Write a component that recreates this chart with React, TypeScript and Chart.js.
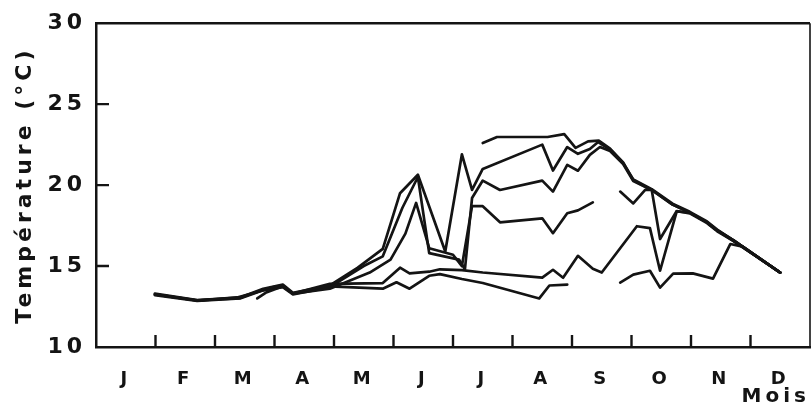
import React, { useEffect, useRef } from 'react';
import { Chart, registerables } from 'chart.js';

Chart.register(...registerables);

// Month labels (x axis, centred in each month)
const months = ['J', 'F', 'M', 'A', 'M', 'J', 'J', 'A', 'S', 'O', 'N', 'D'];
const monthBoundaries = [1, 2, 3, 4, 5, 6, 7, 8, 9, 10, 11];
const yTickValues = [15, 20, 25];

// Series: [month position, temperature °C]; null = gap
const serieA: [number, number | null][] = [
  [6.50, 22.6], [6.74, 22.97], [7.59, 22.97], [7.87, 23.15], [8.06, 22.3], [8.27, 22.7],
  [8.45, 22.75], [8.64, 22.25], [8.86, 21.4], [9.03, 20.3], [9.34, 19.7], [9.69, 18.8],
  [9.98, 18.3], [10.27, 17.7], [10.44, 17.2], [10.71, 16.6], [11.5, 14.6],
];

const serieB: [number, number | null][] = [
  [0.99, 13.3], [1.70, 12.9], [2.42, 13.05], [2.81, 13.6], [3.14, 13.85], [3.31, 13.35],
  [3.93, 13.8], [4.4, 14.9], [4.82, 16.06], [5.11, 19.5], [5.41, 20.64], [5.87, 15.9],
  [6.15, 21.9], [6.32, 19.7], [6.50, 21.0], [7.50, 22.5], [7.68, 20.9], [7.92, 22.35],
  [8.10, 21.93], [8.30, 22.23], [8.44, 22.66], [8.64, 22.2], [8.86, 21.35], [9.03, 20.35],
  [9.34, 19.75], [9.69, 18.85], [9.98, 18.35], [10.27, 17.75], [10.44, 17.25], [10.71, 16.6],
  [11.5, 14.6],
];

const serieC: [number, number | null][] = [
  [0.99, 13.2], [1.70, 12.85], [2.42, 13.0], [2.81, 13.5], [3.14, 13.7], [3.31, 13.25],
  [3.93, 13.7], [4.5, 15.0], [4.82, 15.6], [5.15, 18.6], [5.41, 20.5], [5.6, 15.8],
  [6.1, 15.4], [6.2, 14.8], [6.32, 19.2], [6.50, 20.28], [6.79, 19.7], [7.50, 20.28],
  [7.68, 19.6], [7.92, 21.25], [8.10, 20.89], [8.30, 21.87], [8.47, 22.35], [8.64, 22.1],
  [8.86, 21.3], [9.03, 20.25], [9.34, 19.7], [9.69, 18.8], [9.98, 18.3], [10.27, 17.7],
  [10.44, 17.2], [10.71, 16.55], [11.5, 14.6],
];

const serieD: [number, number | null][] = [
  [2.71, 13.0], [2.85, 13.35], [3.14, 13.75], [3.31, 13.3], [3.93, 13.6], [4.6, 14.6],
  [4.95, 15.4], [5.2, 17.0], [5.38, 18.9], [5.6, 16.1], [6.0, 15.7], [6.15, 15.0],
  [6.32, 18.7], [6.50, 18.7], [6.79, 17.7], [7.50, 17.95], [7.68, 17.03], [7.92, 18.26],
  [8.10, 18.44], [8.35, 18.93], [8.6, null], [8.81, 19.6], [9.03, 18.87], [9.23, 19.7],
  [9.34, 19.7], [9.48, 16.67], [9.76, 18.4], [9.98, 18.25], [10.27, 17.65], [10.44, 17.15],
  [10.71, 16.55], [11.5, 14.6],
];

const serieE: [number, number | null][] = [
  [0.99, 13.25], [1.70, 12.88], [2.42, 13.02], [2.81, 13.55], [3.14, 13.75], [3.31, 13.3],
  [3.93, 13.9], [4.82, 13.95], [5.11, 14.9], [5.27, 14.55], [5.6, 14.65], [5.78, 14.8],
  [6.15, 14.75], [6.5, 14.6], [7.5, 14.28], [7.68, 14.77], [7.85, 14.28], [8.10, 15.63],
  [8.35, 14.83], [8.50, 14.6], [9.09, 17.46], [9.31, 17.34], [9.48, 14.71], [9.76, 18.38],
  [9.98, 18.3], [10.27, 17.7], [10.44, 17.2], [10.71, 16.6], [11.5, 14.6],
];

const serieF: [number, number | null][] = [
  [0.99, 13.25], [1.70, 12.87], [2.37, 13.06], [2.71, 13.4], [2.98, 13.7], [3.14, 13.8],
  [3.31, 13.3], [3.93, 13.75], [4.82, 13.6], [5.05, 14.0], [5.27, 13.6], [5.6, 14.4],
  [5.78, 14.5], [6.15, 14.2], [6.50, 13.95], [7.45, 13.0], [7.62, 13.8], [7.92, 13.85],
  [8.3, null], [8.81, 13.98], [9.03, 14.47], [9.31, 14.71], [9.48, 13.67], [9.70, 14.53],
  [10.03, 14.55], [10.37, 14.22], [10.66, 16.36], [10.87, 16.2], [11.5, 14.6],
];

const allSeries = [serieA, serieB, serieC, serieD, serieE, serieF];

const INK = '#141414';
const FONT = '"DejaVu Sans", sans-serif';

const framePlugin = {
  id: 'frameTicks',
  beforeDraw(chart: any) {
    chart.ctx.letterSpacing = '4px';
  },
  afterDraw(chart: any) {
    const { ctx, chartArea, scales } = chart;
    const { left, right, top, bottom } = chartArea;
    ctx.save();
    ctx.letterSpacing = '0px';
    ctx.strokeStyle = INK;
    ctx.lineCap = 'butt';
    ctx.lineWidth = 2.5;
    ctx.beginPath();
    ctx.moveTo(left, top);
    ctx.lineTo(right, top);
    ctx.stroke();
    ctx.lineWidth = 1.6;
    ctx.beginPath();
    ctx.moveTo(right, top);
    ctx.lineTo(right, bottom);
    ctx.stroke();
    ctx.lineWidth = 2.4;
    ctx.beginPath();
    for (const m of monthBoundaries) {
      const px = scales.x.getPixelForValue(m);
      ctx.moveTo(px, bottom);
      ctx.lineTo(px, bottom - 12);
    }
    for (const v of yTickValues) {
      const py = scales.y.getPixelForValue(v);
      ctx.moveTo(left, py);
      ctx.lineTo(left + 13, py);
    }
    ctx.stroke();
    ctx.restore();
  },
};

export default function App() {
  const canvasRef = useRef<HTMLCanvasElement | null>(null);

  useEffect(() => {
    if (!canvasRef.current) return;
    const datasets = allSeries.map((s, i) => ({
      label: 'S' + (i + 1),
      data: s.map(([x, y]) => ({ x, y })),
      borderColor: INK,
      backgroundColor: INK,
      borderWidth: 2.7,
      pointRadius: 0,
      tension: 0,
      spanGaps: false,
      borderJoinStyle: 'round' as const,
      borderCapStyle: 'round' as const,
    }));
    const chart = new Chart(canvasRef.current, {
      type: 'line',
      data: { datasets },
      options: {
        animation: false,
        responsive: true,
        maintainAspectRatio: false,
        layout: { padding: { top: 20, right: 2, left: 0, bottom: 0 } },
        plugins: { legend: { display: false }, tooltip: { enabled: false } },
        scales: {
          x: {
            type: 'linear',
            min: 0,
            max: 12,
            afterBuildTicks: (axis: any) => {
              axis.ticks = months.map((_, i) => ({ value: i + 0.5 }));
            },
            afterFit: (axis: any) => {
              axis.height = 62;
            },
            grid: { display: false, drawTicks: false },
            border: { display: true, color: INK, width: 2.5 },
            ticks: {
              callback: (_v: any, i: number) => months[i],
              color: INK,
              font: { family: FONT, size: 18, weight: 'bold' },
              padding: 22,
              maxRotation: 0,
              autoSkip: false,
            },
            title: {
              display: true,
              text: 'Mois',
              align: 'end',
              color: INK,
              font: { family: FONT, size: 20, weight: 'bold' },
              padding: { top: 0, bottom: 0 },
            },
          },
          y: {
            type: 'linear',
            min: 10,
            max: 30,
            afterFit: (axis: any) => {
              axis.width = 96;
            },
            grid: { display: false, drawTicks: false },
            border: { display: true, color: INK, width: 2.5 },
            ticks: {
              stepSize: 5,
              color: INK,
              font: { family: FONT, size: 22, weight: 'bold' },
              padding: 10,
            },
            title: {
              display: true,
              text: 'Température (°C)',
              color: INK,
              font: { family: FONT, size: 22, weight: 'bold' },
              padding: { top: 12, bottom: 0 },
            },
          },
        },
      },
      plugins: [framePlugin],
    });
    return () => chart.destroy();
  }, []);

  return (
    <div style={{ position: 'fixed', left: 0, top: 0, width: 812, height: 409, background: '#fff' }}>
      <canvas ref={canvasRef} />
    </div>
  );
}
